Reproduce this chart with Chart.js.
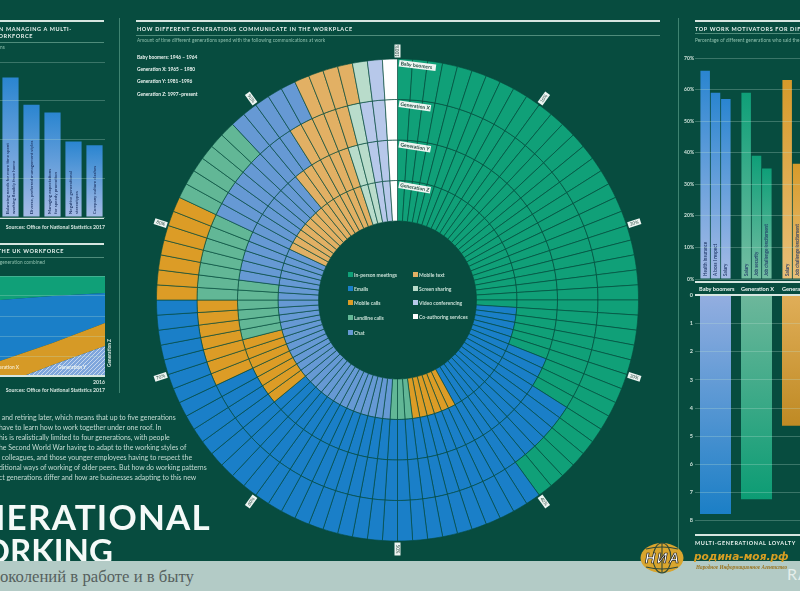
<!DOCTYPE html>
<html>
<head>
<meta charset="utf-8">
<title>Multi-generational working</title>
<script src="https://cdn.jsdelivr.net/npm/chart.js@4"></script>
<style>
    html, body { margin:0; padding:0; width:800px; height:591px; overflow:hidden; background:#074c3f; }
    body, canvas, div { font-family:Lato, "Open Sans", sans-serif; }
    #poster { position:absolute; left:0; top:0; width:800px; height:591px; overflow:hidden; filter:blur(0.45px); }
    canvas { position:absolute; }
    .t { position:absolute; white-space:nowrap; color:#dcebe5; }
    .head { font-size:5.5px; font-weight:700; letter-spacing:0.62px; color:#e8f2ee; }
    .sub { font-size:4.7px; color:#8fc0ae; letter-spacing:0.1px; }
    .src { font-size:5.2px; font-weight:700; color:#d5e5df; }
    .gen { font-size:4.8px; font-weight:700; color:#eef6f3; }
    .thick { position:absolute; height:2px; background:#d6e6e0; }
    .thin { position:absolute; height:1px; background:#4f8c7b; }
    .para { font-size:6.9px; color:#c5dbd3; }
    .big { font-size:35px; font-weight:700; color:#f4faf8; letter-spacing:1.2px; line-height:36px; }
    .leg { position:absolute; font-size:5px; font-weight:700; color:#c9e0d7; white-space:nowrap; line-height:6px; }
    .leg i { position:absolute; left:-6px; top:0; width:5px; height:5px; }
    #band { position:absolute; left:0; top:561px; width:800px; height:30px; background:#b3cbc6; overflow:hidden; }
    #band span { position:absolute; font-family:"Liberation Serif", serif; font-size:16.7px; color:#56605e; left:-9px; top:6px; white-space:nowrap; }
    #band b { position:absolute; left:787px; top:3px; font-size:16px; font-weight:400; color:#e4eeeb; letter-spacing:1px; }
</style>
</head>
<body>
<div id="poster">
    <canvas id="leftBars" width="105" height="156" style="left:0;top:62px"></canvas>
    <canvas id="workforce" width="105" height="100" style="left:0;top:276px"></canvas>
    <canvas id="rings" width="489" height="520" style="left:153px;top:40px"></canvas>
    <canvas id="motivators" width="138" height="233" style="left:680px;top:50px"></canvas>
    <canvas id="loyalty" width="138" height="236" style="left:680px;top:290px"></canvas>

    <div class="thick" style="left:0;top:20px;width:104px"></div>
    <div class="t head" style="right:728px;top:26px">IN MANAGING A MULTI-</div>
    <div class="t head" style="right:767px;top:33px">ORKFORCE</div>
    <div class="thin" style="left:0;top:42px;width:104px"></div>
    <div class="t sub" style="left:0;top:44px">ns</div>
    <div class="t src" style="right:695px;top:224px">Sources: Office for National Statistics 2017</div>
    <div class="thick" style="left:0;top:218px;width:104px;height:1px"></div>

    <div class="thick" style="left:0;top:243px;width:104px"></div>
    <div class="t head" style="right:736px;top:248px">THE UK WORKFORCE</div>
    <div class="thin" style="left:0;top:257px;width:104px"></div>
    <div class="t sub" style="right:755px;top:259px">generation combined</div>
    <div class="thick" style="left:0;top:375px;width:105px;height:1.5px"></div>
    <div class="t src" style="right:695px;top:379px">2016</div>
    <div class="t src" style="right:695px;top:387px">Sources: Office for National Statistics 2017</div>
    <div class="t gen" style="right:781px;top:364px;color:#f3e6c4">Generation X</div>
    <div class="t gen" style="left:58px;top:364px">Generation Y</div>
    <div class="t gen" style="left:95px;top:350px;color:#d8e8e2;transform:rotate(-90deg)">Generation Z</div>

    <div style="position:absolute;left:119px;top:18px;width:1px;height:375px;background:#3f8371"></div>
    <div style="position:absolute;left:678px;top:18px;width:1px;height:543px;background:#3f8371"></div>

    <div class="thick" style="left:136px;top:20px;width:524px"></div>
    <div class="t head" style="left:137px;top:26px">HOW DIFFERENT GENERATIONS COMMUNICATE IN THE WORKPLACE</div>
    <div class="thin" style="left:136px;top:35px;width:524px"></div>
    <div class="t sub" style="left:137px;top:37px">Amount of time different generations spend with the following communications at work</div>
    <div class="t gen" style="left:137px;top:54px">Baby boomers: 1946 – 1964</div>
    <div class="t gen" style="left:137px;top:66px">Generation X: 1965 – 1980</div>
    <div class="t gen" style="left:137px;top:78px">Generation Y: 1981–1996</div>
    <div class="t gen" style="left:137px;top:91px">Generation Z: 1997–present</div>

    <div class="t para" style="left:0;top:413px">&nbsp;and retiring later, which means that up to five generations</div>
    <div class="t para" style="left:-1px;top:423px">have to learn how to work together under one roof. In</div>
    <div class="t para" style="left:-1px;top:433px">his is realistically limited to four generations, with people</div>
    <div class="t para" style="left:-1px;top:443px">he Second World War having to adapt to the working styles of</div>
    <div class="t para" style="left:0;top:453px">&nbsp;colleagues, and those younger employees having to respect the</div>
    <div class="t para" style="left:-1px;top:463px">ditional ways of working of older peers. But how do working patterns</div>
    <div class="t para" style="left:-1px;top:473px">ct generations differ and how are businesses adapting to this new</div>
    <div class="t big" style="right:589px;top:498px">GENERATIONAL</div>
    <div class="t big" style="right:687px;top:532px;font-size:33px;letter-spacing:0">WORKING</div>

    <div class="thick" style="left:695px;top:20px;width:105px"></div>
    <div class="t head" style="left:695px;top:26px">TOP WORK MOTIVATORS FOR DIFFERENT GENERATIONS</div>
    <div class="thin" style="left:695px;top:33px;width:105px"></div>
    <div class="t sub" style="left:695px;top:37px">Percentage of different generations who said the following</div>
    <div class="thick" style="left:695px;top:281px;width:105px;height:1.5px"></div>
    <div class="t gen" id="genLabelA" style="left:699px;top:285px;font-size:5.6px">Baby boomers</div>
    <div class="t gen" style="left:741px;top:285px;font-size:5.6px">Generation X</div>
    <div class="t gen" style="left:782px;top:285px;font-size:5.6px">Generation Y</div>
    <div class="thick" style="left:695px;top:294px;width:105px;height:1.5px"></div>
    <div class="thick" style="left:695px;top:534px;width:105px"></div>
    <div class="t head" style="left:695px;top:540px">MULTI-GENERATIONAL LOYALTY</div>

    <div id="legend"></div>
</div>

<div id="band"><span>поколений в работе и в быту</span><b>RA</b></div>

<svg width="800" height="591" style="position:absolute;left:0;top:0">
    <ellipse cx="662" cy="558" rx="21.5" ry="15" fill="#d9a52e"/>
    <g fill="none" stroke="#2f4a3a" stroke-width="1.1">
        <ellipse cx="662" cy="558" rx="9" ry="15"/>
        <line x1="662" y1="543" x2="662" y2="573"/>
        <path d="M646 549 Q662 545 678 549"/>
        <path d="M646 567 Q662 571 678 567"/>
    </g>
    <text x="662" y="563" text-anchor="middle" font-family="Liberation Sans" font-size="14" font-weight="700" font-style="italic" fill="#fff" stroke="#111" stroke-width="0.7" textLength="34">НИА</text>
    <text x="694" y="560" font-family="DejaVu Sans" font-size="10.6" font-weight="700" font-style="italic" fill="#d89f23">родина-моя.рф</text>
    <text x="696" y="569" font-family="Liberation Serif" font-size="5.2" font-weight="700" font-style="italic" fill="#9a7420">Народное Информационное Агентство</text>
</svg>

<script>
// Share of each generation's time, % (clockwise from the top)
const categories = ['In-person meetings', 'Emails', 'Mobile calls', 'Landline calls', 'Chat', 'Mobile text', 'Screen sharing', 'Video conferencing', 'Co-authoring services'];
const categoryColors = ['#10a078', '#1a7fc8', '#dc9c26', '#62b796', '#6699d4', '#e2b064', '#b9dccb', '#b7c8ea', '#ffffff'];
const babyBoomers = [40, 35, 7, 6, 5, 4, 1, 1, 1];
const generationX = [34, 34, 7, 7, 9, 5, 1, 2, 1];
const generationY = [31, 33, 7, 6, 12, 6, 2, 2, 1];
const generationZ = [26, 16, 6, 3, 31, 13, 2, 2, 1];
const ringNames = ['Baby boomers', 'Generation X', 'Generation Y', 'Generation Z'];
const percentTicks = [100, 10, 20, 30, 40, 50, 60, 70, 80, 90];

// Left panel: managing a multi-generational workforce
const challengeLabels = [['Balancing needs for more time spent', 'working flexibly from home'], ['Diverse, preferred management styles'], ['Managing expectations', 'for speedy promotion'], ['Negative generational', 'stereotypes'], ['Company culture clashes']];
const challengeValues = [36, 29, 27, 19.5, 18.5];

// Left panel: the UK workforce, stacked %
const workforceYears = ['', '', '', '', '2016'];
const workforceGenY = [0, 1, 11, 20.5, 30];
const workforceGenX = [15, 23, 22, 22.5, 23];
const workforceBoomers = [61, 54, 47, 38.5, 30];
const workforceOlder = [24, 22, 20, 18.5, 17];

// Right panel: work motivators, %
const generations = ['Baby boomers', 'Generation X', 'Generation Y'];
const motivatorFirst = [66, 59, 63];
const motivatorSecond = [59, 39, 36.5];
const motivatorThird = [57, 35, null];
const motivatorNotesFirst = ['Health insurance', 'Salary', 'Salary'];
const motivatorNotesSecond = ['A boss I respect', 'Job security', 'Job challenge/excitement'];
const motivatorNotesThird = ['Salary', 'Job challenge/excitement', ''];

// Right panel: years of loyalty
const loyaltyYears = [7.76, 7.24, 4.63];

const strong = ['#2a85d0', '#0f9f78', '#d79a2a'];
const light = ['#a6bbe6', '#74bda2', '#e8bf78'];
const gridColor = 'rgba(190,225,212,0.28)';

Chart.defaults.font.family = 'Lato';
Chart.defaults.animation = false;
Chart.defaults.responsive = false;
Chart.defaults.plugins.legend.display = false;
Chart.defaults.plugins.tooltip.enabled = false;

// Fade from the value end of a bar back to the zero line
function barFade(topColors, baseColors) {
    return (ctx) => {
        const { chart, raw, dataIndex } = ctx;
        if (raw === null || raw === undefined || !chart.chartArea) return topColors[0];
        const scale = chart.scales.y;
        const g = chart.ctx.createLinearGradient(0, scale.getPixelForValue(raw), 0, scale.getPixelForValue(0));
        g.addColorStop(0, topColors[dataIndex % topColors.length]);
        g.addColorStop(1, baseColors[dataIndex % baseColors.length]);
        return g;
    };
}

// Vertical captions sitting inside the bars
const barNotes = {
    id: 'barNotes',
    afterDatasetsDraw(chart, args, opts) {
        const c = chart.ctx;
        chart.data.datasets.forEach((ds, d) => {
            chart.getDatasetMeta(d).data.forEach((bar, i) => {
                const note = opts.notes[d][i];
                if (!note) return;
                const lines = Array.isArray(note) ? note : [note];
                c.save();
                c.translate(bar.x, chart.chartArea.bottom - 3);
                c.rotate(-Math.PI / 2);
                c.fillStyle = '#1d3566';
                c.font = '600 ' + opts.size + 'px Lato';
                c.textBaseline = 'middle';
                lines.forEach((line, n) => c.fillText(line, 0, (n - (lines.length - 1) / 2) * (opts.size + 1)));
                c.restore();
            });
        });
    }
};

new Chart(document.getElementById('leftBars'), {
    type: 'bar',
    data: {
        labels: challengeLabels.map((l) => l.join(' ')),
        datasets: [{ data: challengeValues, backgroundColor: barFade([strong[0]], [light[0]]), barPercentage: 0.77, categoryPercentage: 1 }]
    },
    options: {
        layout: { padding: { top: 0, bottom: 1 } },
        scales: {
            x: { display: false },
            y: { min: 0, max: 40, ticks: { display: false, stepSize: 10 }, border: { display: false }, grid: { color: gridColor, z: 1, drawTicks: false }, afterFit: (s) => { s.width = 0; } }
        },
        plugins: { barNotes: { notes: [challengeLabels], size: 4.4 } }
    },
    plugins: [barNotes]
});

// Hatching for the youngest visible layer
function hatch() {
    const p = document.createElement('canvas');
    p.width = 4; p.height = 4;
    const c = p.getContext('2d');
    c.fillStyle = '#7fa6dc';
    c.fillRect(0, 0, 4, 4);
    c.strokeStyle = '#c4d6ee';
    c.lineWidth = 1;
    c.beginPath();
    c.moveTo(0, 4); c.lineTo(4, 0);
    c.moveTo(-1, 1); c.lineTo(1, -1);
    c.moveTo(3, 5); c.lineTo(5, 3);
    c.stroke();
    return document.getElementById('workforce').getContext('2d').createPattern(p, 'repeat');
}

new Chart(document.getElementById('workforce'), {
    type: 'line',
    data: {
        labels: workforceYears,
        datasets: [
            { label: 'Generation Y', data: workforceGenY, backgroundColor: hatch(), fill: 'origin' },
            { label: 'Generation X', data: workforceGenX, backgroundColor: '#d69a26', fill: '-1' },
            { label: 'Baby boomers', data: workforceBoomers, backgroundColor: '#1a7fc8', fill: '-1' },
            { label: 'Older workers', data: workforceOlder, backgroundColor: '#10a078', fill: '-1' }
        ]
    },
    options: {
        elements: { point: { radius: 0 }, line: { borderWidth: 0, tension: 0 } },
        scales: {
            x: { display: false },
            y: { stacked: true, min: 0, max: 100, ticks: { display: false, stepSize: 20 }, border: { display: false }, grid: { color: gridColor, z: 1, drawTicks: false }, afterFit: (s) => { s.width = 0; } }
        }
    }
});

// One slice per percentage point, coloured by the category it falls in
function colorsFor(values) {
    const out = [];
    values.forEach((v, i) => { for (let n = 0; n < v; n++) out.push(categoryColors[i]); });
    return out;
}
const ringSeries = [babyBoomers, generationX, generationY, generationZ];

// White chips: generation names and the percentage scale round the rim
const ringChips = {
    id: 'ringChips',
    afterDatasetsDraw(chart) {
        const c = chart.ctx;
        const first = chart.getDatasetMeta(0).data[0];
        const cx = first.x, cy = first.y, outer = first.outerRadius;
        c.textAlign = 'center';
        c.textBaseline = 'middle';
        percentTicks.forEach((p) => {
            const a = (p % 100) / 100 * Math.PI * 2 - Math.PI / 2;
            const flip = p > 50 && p < 100 ? Math.PI : 0;
            c.save();
            c.translate(cx + Math.cos(a) * (outer + 8), cy + Math.sin(a) * (outer + 8));
            c.rotate(a + flip);
            c.fillStyle = '#eef5f2';
            c.fillRect(-6.5, -3, 13, 6);
            c.fillStyle = '#4d6a63';
            c.font = '600 4.6px Lato';
            c.fillText(p + '%', 0, 0);
            c.restore();
        });
        ringNames.forEach((name, d) => {
            const arc = chart.getDatasetMeta(d).data[0];
            c.save();
            c.translate(cx + 2, cy - arc.outerRadius + 1);
            c.rotate((7 + d) * Math.PI / 180);
            c.fillStyle = '#eef5f2';
            const w = d === 0 ? 37 : 32;
            c.fillRect(0, 0, w, 6.5);
            c.fillStyle = '#1f4a3f';
            c.font = '700 5px Lato';
            c.textAlign = 'left';
            c.fillText(name, 1.5, 3.4);
            c.restore();
        });
    }
};

new Chart(document.getElementById('rings'), {
    type: 'doughnut',
    data: {
        labels: categories,
        datasets: ringSeries.map((vals, i) => ({
            label: ringNames[i],
            data: colorsFor(vals).map(() => 1),
            backgroundColor: colorsFor(vals),
            borderColor: 'rgba(6,76,62,0.8)',
            borderWidth: 0.8
        }))
    },
    options: {
        radius: 241,
        cutout: 80,
        layout: { padding: 0 }
    },
    plugins: [ringChips]
});

const motivatorOptions = (i) => ({ data: [motivatorFirst, motivatorSecond, motivatorThird][i], backgroundColor: barFade(strong, light), barPercentage: 0.92, categoryPercentage: 0.756 });

new Chart(document.getElementById('motivators'), {
    type: 'bar',
    data: { labels: generations, datasets: [motivatorOptions(0), motivatorOptions(1), motivatorOptions(2)] },
    options: {
        layout: { padding: { top: 8, bottom: 1 } },
        scales: {
            x: { display: false },
            y: {
                min: 0, max: 70, border: { display: false },
                ticks: { stepSize: 10, color: '#cfe2da', font: { size: 5, weight: 700 }, padding: 1, callback: (v) => v + '%' },
                grid: { color: gridColor, z: 1, drawTicks: false },
                afterFit: (s) => { s.width = 15; }
            }
        },
        plugins: { barNotes: { notes: [motivatorNotesFirst, motivatorNotesSecond, motivatorNotesThird], size: 4.6 } }
    },
    plugins: [barNotes]
});

new Chart(document.getElementById('loyalty'), {
    type: 'bar',
    data: {
        labels: generations,
        datasets: [{ data: loyaltyYears, backgroundColor: barFade(['#1b7fc6', '#0c9c74', '#bf8a24'], ['#93aee0', '#6db79b', '#e0ae58']), barPercentage: 1, categoryPercentage: 0.756 }]
    },
    options: {
        layout: { padding: { top: 5, bottom: 1 } },
        scales: {
            x: { display: false },
            y: {
                reverse: true, min: 0, max: 8, border: { display: false },
                ticks: { stepSize: 1, color: '#cfe2da', font: { size: 5.5, weight: 700 }, padding: 2 },
                grid: { color: gridColor, z: 1, drawTicks: false },
                afterFit: (s) => { s.width = 15; }
            }
        }
    }
});

// Legend inside the ring hole
const legendSpots = [[354, 272], [354, 286], [354, 300], [354, 315], [354, 330], [419, 272], [419, 286], [419, 300], [419, 314]];
const legend = document.getElementById('legend');
categories.forEach((name, i) => {
    const row = document.createElement('div');
    row.className = 'leg';
    row.style.left = legendSpots[i][0] + 'px';
    row.style.top = legendSpots[i][1] + 'px';
    row.innerHTML = '<i style="background:' + categoryColors[i] + '"></i>' + name;
    legend.appendChild(row);
});
</script>
</body>
</html>
